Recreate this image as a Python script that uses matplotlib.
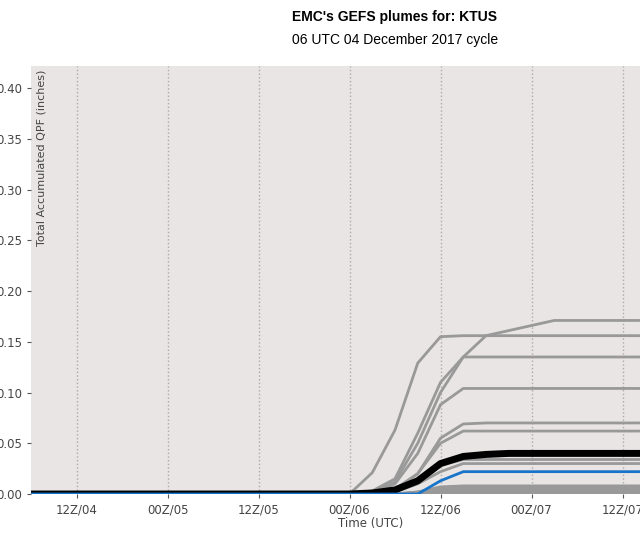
import matplotlib
matplotlib.use("Agg")
import matplotlib.pyplot as plt
import numpy as np

# hours since 06Z/04 at 3-hourly steps
hours = list(range(0, 88, 3))
tick_hours = [6, 18, 30, 42, 54, 66, 78]
tick_labels = ["12Z/04", "00Z/05", "12Z/05", "00Z/06", "12Z/06", "00Z/07", "12Z/07"]

# ramp values from hour 42 onward (h42, h45, h48, h51, h54, h57, h60, h63, h66, h69), then flat
members_ramp = [
    [0, 0.021, 0.063, 0.129, 0.155, 0.156, 0.156, 0.156, 0.156, 0.156],
    [0, 0.003, 0.015, 0.060, 0.110, 0.135, 0.156, 0.161, 0.166, 0.171],
    [0, 0.002, 0.012, 0.050, 0.100, 0.135, 0.135, 0.135, 0.135, 0.135],
    [0, 0.001, 0.010, 0.040, 0.088, 0.104, 0.104, 0.104, 0.104, 0.104],
    [0, 0.001, 0.005, 0.020, 0.055, 0.069, 0.070, 0.070, 0.070, 0.070],
    [0, 0.001, 0.004, 0.020, 0.050, 0.062, 0.062, 0.062, 0.062, 0.062],
    [0, 0.000, 0.003, 0.012, 0.028, 0.034, 0.034, 0.034, 0.034, 0.034],
    [0, 0.000, 0.002, 0.010, 0.022, 0.030, 0.030, 0.030, 0.030, 0.030],
    [0, 0.000, 0.000, 0.002, 0.007, 0.008, 0.008, 0.008, 0.008, 0.008],
    [0, 0.000, 0.000, 0.002, 0.006, 0.007, 0.007, 0.007, 0.007, 0.007],
    [0, 0.000, 0.000, 0.001, 0.005, 0.006, 0.006, 0.006, 0.006, 0.006],
    [0, 0.000, 0.000, 0.001, 0.004, 0.005, 0.005, 0.005, 0.005, 0.005],
    [0, 0.000, 0.000, 0.001, 0.003, 0.004, 0.004, 0.004, 0.004, 0.004],
    [0, 0.000, 0.000, 0.000, 0.003, 0.003, 0.003, 0.003, 0.003, 0.003],
    [0, 0.000, 0.000, 0.000, 0.002, 0.002, 0.002, 0.002, 0.002, 0.002],
    [0, 0.000, 0.000, 0.000, 0.001, 0.001, 0.001, 0.001, 0.001, 0.001],
    [0, 0.000, 0.000, 0.000, 0.000, 0.000, 0.000, 0.000, 0.000, 0.000],
    [0, 0.000, 0.000, 0.000, 0.000, 0.000, 0.000, 0.000, 0.000, 0.000],
    [0, 0.000, 0.000, 0.000, 0.000, 0.000, 0.000, 0.000, 0.000, 0.000],
    [0, 0.000, 0.000, 0.000, 0.000, 0.000, 0.000, 0.000, 0.000, 0.000],
]
control_ramp = [0, 0.000, 0.000, 0.000, 0.013, 0.022, 0.022, 0.022, 0.022, 0.022]
mean_ramp = [0, 0.001, 0.004, 0.013, 0.030, 0.037, 0.039, 0.040, 0.040, 0.040]

def full(ramp):
    pre = [0.0] * 14  # hours 0..39
    post = [ramp[-1]] * (len(hours) - 14 - len(ramp))
    return pre + list(ramp) + post

fig = plt.figure(figsize=(6.4, 5.37), dpi=100)
ax = fig.add_axes([31/640, 1-494/537, 1.0, (494-66)/537])
ax.set_facecolor("#e9e5e4")
for m in members_ramp:
    ax.plot(hours, full(m), color="#999999", lw=2, zorder=2)
ax.plot(hours, full(mean_ramp), color="black", lw=5, zorder=4)
ax.plot(hours, full(control_ramp), color="#1874c8", lw=2, zorder=5)

ax.set_xlim(0, 640/91*12)
ax.set_ylim(0, 0.4217)
ax.set_xticks(tick_hours)
ax.set_xticklabels(tick_labels, fontsize=8.5, color="#444444")
ax.set_yticks(np.arange(0, 0.41, 0.05))
ax.set_yticklabels([f"{v:.2f}" for v in np.arange(0, 0.41, 0.05)], fontsize=8.5, color="#444444")
ax.tick_params(length=3, color="#555555")
for s in ax.spines.values():
    s.set_visible(False)
ax.grid(axis="x", color="#aaaaaa", linestyle=":", lw=1)
ax.set_axisbelow(True)
fig.text(371/640, 1-523/537, "Time (UTC)", ha="center", va="center", fontsize=8.5, color="#444444")
ax.text(42/640, 1-70/537, "Total Accumulated QPF (inches)", transform=fig.transFigure,
        rotation=90, ha="center", va="top", fontsize=8, color="#444444")
fig.text(395/640, 1-17/537, "EMC's GEFS plumes for: KTUS", ha="center", va="center",
         fontsize=10, fontweight="bold", family="Liberation Sans")
fig.text(395/640, 1-40/537, "06 UTC 04 December 2017 cycle", ha="center", va="center",
         fontsize=10, family="Liberation Sans")
fig.savefig("out.png", dpi=100)
